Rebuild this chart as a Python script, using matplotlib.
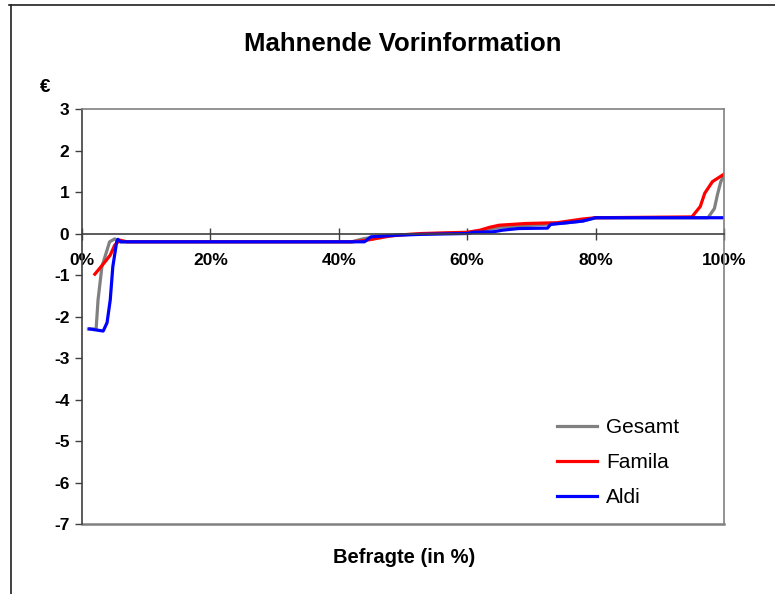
import matplotlib
matplotlib.use('Agg')
import matplotlib.pyplot as plt
from matplotlib.lines import Line2D
from matplotlib.ticker import FuncFormatter

plt.rcParams['font.family'] = ['Liberation Sans', 'DejaVu Sans']
plt.rcParams['axes.unicode_minus'] = False

# Befragte in % (x) und Betrag in EUR (y)
gesamt_x = [1.0, 2.2, 2.5, 3.1, 4.3, 5.1, 6.0, 42.0, 44.0, 46.0, 50.0, 55.0, 60.0,
            62.0, 65.0, 68.0, 72.0, 75.0, 78.0, 80.0, 97.5, 98.5, 99.0, 99.5, 100.0]
gesamt_y = [-2.3, -2.3, -1.6, -0.8, -0.2, -0.13, -0.2, -0.2, -0.12, -0.08, -0.03, 0.0, 0.02,
            0.06, 0.15, 0.18, 0.22, 0.25, 0.3, 0.38, 0.38, 0.6, 0.95, 1.25, 1.4]

famila_x = [2.0, 3.6, 4.4, 5.1, 5.9, 7.0, 42.0, 44.0, 45.5, 48.0, 50.0, 53.0, 60.0,
            62.0, 63.5, 65.0, 67.0, 69.0, 74.0, 78.0, 80.0, 95.0, 96.3, 97.0, 98.2, 100.0]
famila_y = [-0.98, -0.68, -0.52, -0.28, -0.16, -0.2, -0.2, -0.17, -0.13, -0.06, -0.03, 0.0, 0.03,
            0.08, 0.15, 0.2, 0.22, 0.24, 0.26, 0.35, 0.38, 0.4, 0.65, 0.97, 1.25, 1.43]

aldi_x = [1.2, 3.3, 3.9, 4.4, 4.8, 5.4, 5.6, 6.0, 44.0, 45.0, 49.0, 53.0, 60.0, 61.0,
          64.0, 65.5, 68.0, 72.5, 73.0, 75.0, 78.0, 80.0, 100.0]
aldi_y = [-2.3, -2.35, -2.15, -1.6, -0.8, -0.2, -0.14, -0.2, -0.2, -0.08, -0.04, -0.02, 0.0, 0.03,
          0.04, 0.08, 0.12, 0.13, 0.22, 0.25, 0.3, 0.38, 0.38]

fig = plt.figure(figsize=(7.75, 5.94), dpi=100)
ax = fig.add_axes([0.1058, 0.1178, 0.8284, 0.6987])

ax.plot(gesamt_x, gesamt_y, color='#808080', lw=2.3, label='Gesamt')
ax.plot(famila_x, famila_y, color='#ff0000', lw=2.3, label='Famila')
ax.plot(aldi_x, aldi_y, color='#0000ff', lw=2.3, label='Aldi')

ax.set_xlim(0, 100)
ax.set_ylim(-7, 3)
ax.set_xticks(range(0, 101, 20))
ax.set_yticks(range(-7, 4))
ax.xaxis.set_major_formatter(FuncFormatter(lambda v, p: '%d%%' % v))

ax.spines['bottom'].set_position(('data', 0))
ax.spines['bottom'].set_color('#404040')
ax.spines['left'].set_color('#404040')
ax.spines['top'].set_color('#808080')
ax.spines['right'].set_color('#808080')
for s in ax.spines.values():
    s.set_linewidth(1.2)
ax.axhline(-7, color='#808080', lw=1.8, clip_on=False)

ax.tick_params(axis='x', direction='inout', length=8, width=1, color='#404040', pad=10)
ax.tick_params(axis='y', direction='out', length=5, width=1, color='#404040', pad=4)
for lab in ax.get_xticklabels() + ax.get_yticklabels():
    lab.set_fontsize(12.5)
    lab.set_fontweight('bold')

ax.set_title('Mahnende Vorinformation', fontsize=18.5, fontweight='bold', pad=42)
fig.text(0.521, 0.062, 'Befragte (in %)', ha='center', va='center', fontsize=14.5, fontweight='bold')
fig.text(0.058, 0.852, '€', ha='center', va='center', fontsize=13.5, fontweight='bold')

ax.legend(loc='center left', bbox_to_anchor=(0.74, 0.148), frameon=False, fontsize=15,
          handlelength=1.9, handletextpad=0.45, labelspacing=0.78,
          borderpad=0, borderaxespad=0)

# Rahmen der Grafik
fig.add_artist(Line2D([0.014, 0.014], [0.0, 0.991], color='#202020', lw=1.2))
fig.add_artist(Line2D([0.011, 1.0], [0.991, 0.991], color='#202020', lw=1.2))

fig.savefig('out.png', dpi=100)
